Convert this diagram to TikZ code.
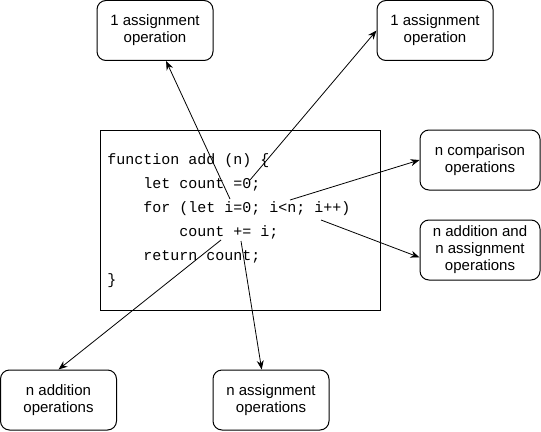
\documentclass[tikz,border=0pt]{standalone}
\usepackage{fontspec}
\setmainfont{Liberation Sans}
\setmonofont{Liberation Mono}
\usetikzlibrary{arrows.meta}

\tikzset{
  opbox/.style={draw, rounded corners=6.75pt, minimum width=87pt, minimum height=45pt, inner sep=0pt, align=center, line width=0.75pt, font=\fontsize{11.25}{12.75}\selectfont},
  codeline/.style={anchor=base west, inner sep=0pt, font=\ttfamily\fontsize{11.25}{13}\selectfont},
  oparrow/.style={-{Stealth[length=6.75pt,width=5.25pt]}, line width=0.6pt}
}

\begin{document}
\begin{tikzpicture}[x=0.75pt, y=-0.75pt]
\useasboundingbox (0,0) rectangle (541,431);

% Code block
\node[draw, line width=0.75pt, minimum width=210pt, minimum height=135pt, inner sep=0pt] (code) at (240,220) {};
\node[codeline] (c1) at (107,164) {function add (n) \{};
\node[codeline] (c2) at (107,188) {\phantom{xxxx}let count =0;};
\node[codeline] (c3) at (107,212) {\phantom{xxxx}for (let i=0; i<n; i++)};
\node[codeline] (c4) at (107,236) {\phantom{xxxxxxxx}count += i;};
\node[codeline] (c5) at (107,260) {\phantom{xxxx}return count;};
\node[codeline] (c6) at (107,284) {\}};

% Operation counts
\node[opbox] (initI) at (155,30.5) {1 assignment\\operation};
\node[opbox] (initCount) at (435,30.5) {1 assignment\\operation};
\node[opbox, minimum width=90pt] (compare) at (480,160) {n comparison\\operations};
\node[opbox, minimum width=90pt] (increment) at (480,250) {n addition and\\n assignment\\operations};
\node[opbox] (addition) at (58.5,400) {n addition\\operations};
\node[opbox] (assign) at (271,400) {n assignment\\operations};

% Start points in the code
\coordinate (atI) at (230,199);
\coordinate (atCount) at (250,180);
\coordinate (atCmp) at (290,200);
\coordinate (atInc) at (321,220);
\coordinate (atAdd) at (221,240);
\coordinate (atAssign) at (241,241);

% Arrows
\draw[oparrow] (atI) -- (initI.-70);
\draw[oparrow] (atCount) -- (initCount.west);
\draw[oparrow] (atCmp) -- (compare.west);
\draw[oparrow] (atInc) -- (increment.187);
\draw[oparrow] (atAdd) -- (addition.north);
\draw[oparrow] (atAssign) -- (assign.107);
\end{tikzpicture}
\end{document}
